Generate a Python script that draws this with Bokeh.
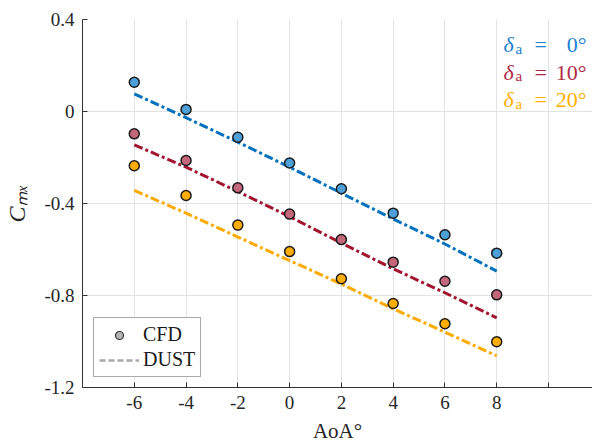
from bokeh.plotting import figure
from bokeh.models import Label, Legend, LegendItem, FixedTicker, Range1d
from bokeh.embed import file_html
from bokeh.resources import INLINE

# ---------------- data ----------------
aoa = [-6, -4, -2, 0, 2, 4, 6, 8]

cfd_0 = [0.127, 0.009, -0.112, -0.224, -0.336, -0.442, -0.536, -0.616]
cfd_10 = [-0.097, -0.213, -0.332, -0.446, -0.557, -0.655, -0.738, -0.797]
cfd_20 = [-0.236, -0.365, -0.494, -0.609, -0.727, -0.835, -0.923, -1.001]

dust_0 = [0.077, -0.027, -0.133, -0.242, -0.355, -0.467, -0.576, -0.694]
dust_10 = [-0.145, -0.242, -0.348, -0.457, -0.572, -0.684, -0.788, -0.897]
dust_20 = [-0.343, -0.442, -0.546, -0.648, -0.750, -0.858, -0.959, -1.062]

x_ticks = [-8, -6, -4, -2, 0, 2, 4, 6, 8, 10]
x_tick_labels = ["", "-6", "-4", "-2", "0", "2", "4", "6", "8", ""]
y_ticks = [-1.2, -0.8, -0.4, 0.0, 0.4]
y_tick_labels = ["-1.2", "-0.8", "-0.4", "0", "0.4"]

deflections = ["0°", "10°", "20°"]
line_colors = ["#0072BD", "#A2142F", "#FFAA00"]
fill_colors = ["#4D9FD8", "#C5677A", "#FFAD00"]
text_colors = ["#2080D0", "#B02A48", "#FFB000"]

FONT = "Liberation Serif"

# ---------------- figure ----------------
X0, X1 = -8.0, 11.7
Y0, Y1 = -1.2, 0.4
p = figure(width=592, height=445, output_backend="svg", toolbar_location=None,
           x_range=Range1d(X0, X1), y_range=Range1d(Y0, Y1),
           min_border_left=82, min_border_right=0, min_border_top=19,
           min_border_bottom=58)
p.outline_line_color = None
p.background_fill_color = "white"

# frame geometry in page pixels (for placing annotations)
FL, FR, FT, FB = 82.0, 592.0, 19.0, 387.0
def px2x(px):
    return X0 + (px - FL) / (FR - FL) * (X1 - X0)
def px2y(py):
    return Y1 - (py - FT) / (FB - FT) * (Y1 - Y0)

# axes
for ax in (p.xaxis[0], p.yaxis[0]):
    ax.axis_line_color = "#333333"
    ax.axis_line_width = 1
    ax.major_tick_line_color = "#333333"
    ax.major_tick_in = 5
    ax.major_tick_out = 0
    ax.minor_tick_line_color = None
    ax.major_label_text_font = FONT
    ax.major_label_text_font_size = "19px"
    ax.major_label_text_color = "#262626"
    ax.axis_label_text_font = FONT
    ax.axis_label_text_color = "#262626"

p.xaxis.ticker = FixedTicker(ticks=x_ticks)
p.xaxis.major_label_overrides = {t: l for t, l in zip(x_ticks, x_tick_labels)}
p.xaxis.major_label_standoff = 8
p.xaxis.axis_label = "AoA°"
p.xaxis.axis_label_text_font_size = "21px"
p.xaxis.axis_label_text_font_style = "normal"
p.xaxis.axis_label_standoff = 7

p.yaxis.ticker = FixedTicker(ticks=y_ticks)
p.yaxis.major_label_overrides = {t: l for t, l in zip(y_ticks, y_tick_labels)}
p.yaxis.major_label_standoff = 8
p.yaxis.axis_label = "Cₘₓ"
p.yaxis.axis_label_text_font_size = "24px"
p.yaxis.axis_label_text_font_style = "italic"
p.yaxis.axis_label_standoff = 11

p.xgrid.grid_line_color = "#e3e3e3"
p.ygrid.grid_line_color = "#e3e3e3"
p.xgrid.ticker = FixedTicker(ticks=x_ticks)
p.ygrid.ticker = FixedTicker(ticks=y_ticks)

# DUST lines
for ys, c in zip([dust_0, dust_10, dust_20], line_colors):
    p.line(aoa, ys, line_color=c, line_width=3, line_dash="9 3 3 3")

# CFD markers
for ys, c in zip([cfd_0, cfd_10, cfd_20], fill_colors):
    p.scatter(aoa, ys, size=10, fill_color=c, line_color="#1a1a1a", line_width=1.5)

# legend dummies
nan = float("nan")
r_cfd = p.scatter([nan], [nan], size=8, fill_color="#b5b5b5", line_color="#333333", line_width=1.2)
r_dust = p.line([nan], [nan], line_color="#a8a8a8", line_width=2.5, line_dash="6 3")
legend = Legend(items=[LegendItem(label="CFD", renderers=[r_cfd]),
                       LegendItem(label="DUST", renderers=[r_dust])],
                location=(11, 10), orientation="vertical")
legend.label_text_font = FONT
legend.label_text_font_size = "20px"
legend.label_text_color = "#1a1a1a"
legend.glyph_width = 40
legend.glyph_height = 20
legend.label_height = 20
legend.label_standoff = 4
legend.spacing = 2
legend.padding = 5
legend.margin = 0
legend.border_line_color = "#555555"
legend.border_line_width = 1
legend.background_fill_color = "white"
legend.background_fill_alpha = 1
p.add_layout(legend)

# deflection annotations (top right)
baselines = [44, 71.5, 99]
for txt, col, bl in zip(deflections, text_colors, baselines):
    p.add_layout(Label(x=px2x(503), y=px2y(bl), text="δ", text_color=col,
                       text_font=FONT, text_font_style="italic", text_font_size="22px",
                       text_align="left", text_baseline="alphabetic"))
    p.add_layout(Label(x=px2x(515), y=px2y(bl + 4), text="a", text_color=col,
                       text_font=FONT, text_font_size="15px",
                       text_align="left", text_baseline="alphabetic"))
    p.add_layout(Label(x=px2x(534), y=px2y(bl), text="=", text_color=col,
                       text_font=FONT, text_font_size="22px",
                       text_align="left", text_baseline="alphabetic"))
    p.add_layout(Label(x=px2x(586), y=px2y(bl), text=txt, text_color=col,
                       text_font=FONT, text_font_size="22px",
                       text_align="right", text_baseline="alphabetic"))

open("out.html", "w").write(file_html(p, INLINE))
